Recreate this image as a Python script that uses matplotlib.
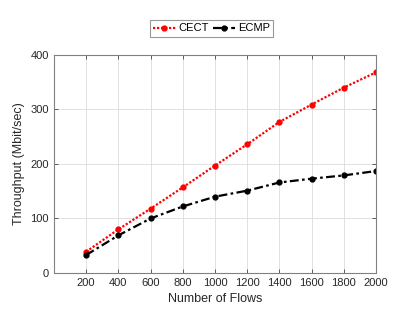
import matplotlib
matplotlib.use("Agg")
import matplotlib.pyplot as plt

plt.rcParams['font.family'] = ['Liberation Sans', 'DejaVu Sans']

flows = [200, 400, 600, 800, 1000, 1200, 1400, 1600, 1800, 2000]
cect = [39, 80, 118, 157, 197, 236, 277, 309, 340, 368]
ecmp = [33, 69, 100, 122, 140, 151, 166, 173, 179, 187]
xticks = [200, 400, 600, 800, 1000, 1200, 1400, 1600, 1800, 2000]
yticks = [0, 100, 200, 300, 400]

fig = plt.figure(figsize=(4.15, 3.12), dpi=100)
ax = fig.add_axes([0.130, 0.125, 0.776, 0.699])

ax.plot(flows, cect, color='red', linestyle=(0, (1, 0.8)), linewidth=1.6, marker='o',
        markersize=3.5, label='CECT')
ax.plot(flows, ecmp, color='black', linestyle=(0, (4, 1.5, 1.2, 1.5)), linewidth=1.6,
        marker='o', markersize=3.5, label='ECMP')

ax.set_xlim(0, 2000)
ax.set_ylim(0, 400)
ax.set_xticks(xticks)
ax.set_yticks(yticks)
ax.grid(True, color='#dcdcdc', linewidth=0.6)
ax.set_axisbelow(True)
ax.tick_params(direction='in', length=3, width=0.5, labelsize=8,
               colors='#262626', top=True, right=True, labeltop=False, labelright=False)
for s in ax.spines.values():
    s.set_color('#808080')
    s.set_linewidth(0.8)
ax.set_xlabel('Number of Flows', fontsize=9, color='#262626')
ax.set_ylabel('Throughput (Mbit/sec)', fontsize=9, color='#262626')

leg = ax.legend(loc='lower center', bbox_to_anchor=(0.49, 1.083), ncol=2,
                fontsize=8, frameon=True, fancybox=False, handlelength=2.0,
                columnspacing=0.4, handletextpad=0.25, borderpad=0.3, borderaxespad=0)
leg.get_frame().set_edgecolor('#808080')
leg.get_frame().set_linewidth(0.8)

fig.savefig('out.png', dpi=100)
